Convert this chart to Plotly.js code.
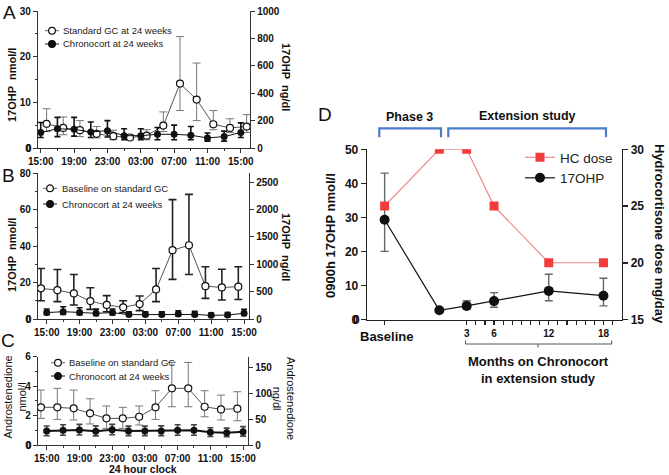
<!DOCTYPE html>
<html>
<head>
<meta charset="utf-8">
<script src="https://cdn.plot.ly/plotly-3.0.1.min.js"></script>
<style>body{margin:0;background:#fff}#fig{width:669px;height:475px}</style>
</head>
<body>
<div id="fig"></div>
<script>
// 24 h profiles (A-C), hours after 15:00
var clockTicks = [0, 4, 8, 12, 16, 20, 24];
var clockLabels = ['15:00', '19:00', '23:00', '03:00', '07:00', '11:00', '15:00'];
var hrsChrono = [0, 2, 4, 6, 8, 10, 12, 14, 16, 18, 20, 22, 24];
var hrsGcA = [0.7, 2.7, 4.7, 6.7, 8.7, 10.7, 12.7, 14.7, 16.7, 18.7, 20.7, 22.7, 24.7];
var hrsGcBC = [-0.7, 1.3, 3.3, 5.3, 7.3, 9.3, 11.3, 13.3, 15.3, 17.3, 19.3, 21.3, 23.3];

// A: 17OHP nmol/l
var gcA   = [5.3, 4.4, 3.9, 3.1, 2.6, 2.3, 2.7, 4.9, 14.1, 10.6, 5.2, 4.4, 4.7];
var gcAHi = [8.6, 6.8, 6.0, 4.7, 3.9, 2.9, 4.0, 7.9, 24.4, 18.6, 8.2, 6.4, 7.3];
var gcALo = [3.6, 2.9, 2.5, 2.2, 1.8, 1.8, 1.8, 3.6, 8.2, 6.0, 4.0, 3.4, 3.4];
var chA   = [3.4, 4.2, 4.1, 3.5, 3.8, 2.7, 2.7, 3.0, 3.0, 2.8, 2.2, 2.5, 3.4];
var chAHi = [5.6, 6.7, 6.7, 5.7, 6.0, 4.2, 4.2, 4.5, 5.0, 4.7, 3.3, 3.7, 5.5];
var chALo = [2.3, 2.5, 2.6, 2.3, 2.4, 1.8, 1.8, 1.8, 1.8, 1.8, 1.5, 1.5, 2.3];

// B: 17OHP nmol/l
var gcB   = [16.8, 15.8, 14.0, 9.8, 7.7, 6.4, 8.2, 16.2, 37.7, 40.4, 18.0, 17.3, 17.7];
var gcBHi = [27.7, 27.1, 24.4, 17.1, 12.8, 10.0, 12.6, 27.7, 65.4, 68.3, 28.6, 27.3, 28.6];
var gcBLo = [10.0, 9.5, 7.7, 5.3, 4.0, 3.6, 4.6, 9.5, 21.7, 24.4, 11.3, 10.4, 10.7];
var chB   = [3.5, 4.0, 3.6, 3.1, 3.5, 2.4, 2.4, 2.5, 2.7, 2.5, 2.0, 2.2, 3.1];
var chBHi = [5.5, 6.7, 6.2, 5.4, 5.5, 4.0, 3.9, 4.0, 4.5, 4.2, 3.3, 3.6, 5.3];
var chBLo = [2.3, 2.5, 2.3, 2.0, 2.2, 1.5, 1.5, 1.6, 1.7, 1.6, 1.3, 1.4, 2.0];

// C: androstenedione nmol/l
var gcC   = [2.56, 2.56, 2.49, 2.15, 1.81, 1.81, 1.92, 2.56, 3.85, 3.85, 2.60, 2.42, 2.47];
var gcCHi = [3.73, 3.85, 3.73, 3.14, 2.65, 2.56, 2.65, 3.69, 5.61, 5.61, 3.69, 3.39, 3.62];
var gcCLo = [1.81, 1.74, 1.70, 1.43, 1.13, 1.13, 1.36, 1.74, 2.60, 2.60, 1.92, 1.70, 1.65];
var chC   = [0.95, 1.00, 1.02, 0.93, 1.04, 0.95, 0.95, 0.95, 1.00, 1.00, 0.86, 0.84, 0.90];
var chCHi = [1.29, 1.38, 1.40, 1.30, 1.40, 1.28, 1.28, 1.30, 1.38, 1.38, 1.17, 1.15, 1.25];
var chCLo = [0.63, 0.66, 0.68, 0.62, 0.70, 0.64, 0.64, 0.64, 0.66, 0.66, 0.58, 0.56, 0.60];

// D: extension study, months (baseline drawn at -6)
var monthPos = [-6, 0, 3, 6, 12, 18];
var monthTicks = [-6, 3, 6, 12, 18];
var monthLabels = ['', '3', '6', '12', '18'];
var hcDose = [25, 30, 30, 25, 20, 20];
var ohpD   = [29.3, 2.7, 4.0, 5.4, 8.4, 7.0];
var ohpDHi = [43.0, 2.7, 5.5, 7.9, 13.3, 12.1];
var ohpDLo = [20.0, 2.7, 3.0, 3.6, 5.5, 4.0];

var W = 669, H = 475;
function px(v) { return v / W; }
function py(v) { return 1 - v / H; }
var FONT = 'Arial, "Liberation Sans", sans-serif';
var INK = '#111';

function err(v, hi, lo, color, thick, w) {
  return {
    type: 'data', symmetric: false,
    array: hi.map(function (h, i) { return h - v[i]; }),
    arrayminus: lo.map(function (l, i) { return v[i] - l; }),
    color: color, thickness: thick, width: w
  };
}

function gcTrace(x, y, hi, lo, xa, ya, errColor, errThick) {
  return {
    x: x, y: y, xaxis: xa, yaxis: ya, showlegend: false,
    type: 'scatter', mode: 'lines+markers',
    line: {color: '#555', width: 1},
    marker: {symbol: 'circle', size: 7, color: '#fff', line: {color: '#111', width: 1.2}},
    error_y: err(y, hi, lo, errColor, errThick, 4)
  };
}
function chTrace(x, y, hi, lo, xa, ya, lineW, errColor) {
  return {
    x: x, y: y, xaxis: xa, yaxis: ya, showlegend: false,
    type: 'scatter', mode: 'lines+markers',
    line: {color: '#111', width: lineW},
    marker: {symbol: 'circle', size: 7, color: '#111'},
    error_y: err(y, hi, lo, errColor, 1.6, 3)
  };
}
// empty trace so a secondary (ng/dl) axis gets drawn
function axisHolder(xa, ya) {
  return {x: [], y: [], xaxis: xa, yaxis: ya, type: 'scatter', mode: 'markers', showlegend: false, hoverinfo: 'skip'};
}

var data = [
  axisHolder('x', 'y2'), axisHolder('x2', 'y4'), axisHolder('x3', 'y6'),
  gcTrace(hrsGcA, gcA, gcAHi, gcALo, 'x', 'y', '#777', 1),
  chTrace(hrsChrono, chA, chAHi, chALo, 'x', 'y', 1, '#111'),
  gcTrace(hrsGcBC, gcB, gcBHi, gcBLo, 'x2', 'y3', '#222', 1.6),
  chTrace(hrsChrono, chB, chBHi, chBLo, 'x2', 'y3', 1, '#111'),
  gcTrace(hrsGcBC, gcC, gcCHi, gcCLo, 'x3', 'y5', '#777', 1),
  chTrace(hrsChrono, chC, chCHi, chCLo, 'x3', 'y5', 2, '#444'),
  {
    x: monthPos, y: hcDose, name: 'HC dose', xaxis: 'x4', yaxis: 'y8',
    type: 'scatter', mode: 'lines+markers',
    line: {color: '#f28a8a', width: 1.2},
    marker: {symbol: 'square', size: 9, color: '#f23c3c'}
  },
  {
    x: monthPos, y: ohpD, name: '17OHP', xaxis: 'x4', yaxis: 'y7',
    type: 'scatter', mode: 'lines+markers',
    line: {color: '#111', width: 1.2},
    marker: {symbol: 'circle', size: 10, color: '#111'},
    error_y: err(ohpD, ohpDHi, ohpDLo, '#666', 1.4, 4)
  }
];

function xClock(dom, rng, anchor) {
  return {
    domain: dom, range: rng, anchor: anchor,
    tickmode: 'array', tickvals: clockTicks, ticktext: clockLabels,
    ticks: 'outside', ticklen: 4, tickwidth: 1, tickcolor: '#333',
    minor: {tickmode: 'array', tickvals: [2, 6, 10, 14, 18, 22], ticks: 'outside', ticklen: 2},
    showline: true, linecolor: '#333', linewidth: 1.2,
    showgrid: false, zeroline: false,
    tickfont: {family: FONT, size: 10, color: INK, weight: 'bold'}
  };
}
function yLeft(dom, rng, tv, minorDtick, anchor) {
  return {
    domain: dom, range: rng, anchor: anchor, tickmode: 'array', tickvals: tv,
    ticks: 'outside', ticklen: 4, tickwidth: 1, tickcolor: '#333',
    minor: {tick0: 0, dtick: minorDtick, ticks: 'outside', ticklen: 2},
    showline: true, linecolor: '#333', linewidth: 1.2,
    showgrid: false, zeroline: false,
    tickfont: {family: FONT, size: 10, color: INK, weight: 'bold'}
  };
}
function yRight(over, anchor, rng, tv) {
  return {
    overlaying: over, anchor: anchor, side: 'right', range: rng,
    tickmode: 'array', tickvals: tv,
    ticks: 'outside', ticklen: 4, tickwidth: 1, tickcolor: '#333',
    showline: true, linecolor: '#333', linewidth: 1.2,
    showgrid: false, zeroline: false,
    tickfont: {family: FONT, size: 10, color: INK, weight: 'bold'}
  };
}
function note(text, x, y, size, angle, bold, xanchor) {
  return {
    text: text, x: px(x), y: py(y), xref: 'paper', yref: 'paper',
    xanchor: xanchor || 'center', yanchor: 'middle', showarrow: false, textangle: angle || 0,
    font: {family: FONT, size: size, color: INK, weight: bold ? 'bold' : 'normal'}
  };
}

// hand-placed keys for the small legends of A-C
var keyShapes = [], keyNotes = [];
function key(mx, y, tx, label, open, lineColor) {
  keyShapes.push({type: 'line', xref: 'paper', yref: 'paper', x0: px(mx - 7), x1: px(mx + 7), y0: py(y), y1: py(y),
    line: {color: lineColor, width: 1}});
  keyShapes.push({type: 'circle', xref: 'paper', yref: 'paper', x0: px(mx - 3.4), x1: px(mx + 3.4), y0: py(y + 3.4), y1: py(y - 3.4),
    fillcolor: open ? '#fff' : '#111', line: {color: '#111', width: 1.2}});
  keyNotes.push({text: label, x: px(tx), y: py(y), xref: 'paper', yref: 'paper', xanchor: 'left', yanchor: 'middle',
    showarrow: false, font: {family: FONT, size: 9.5, color: '#222'}});
}
key(52, 30.7, 61, 'Standard GC at 24 weeks', true, '#666');
key(52, 44, 61, 'Chronocort at 24 weeks', false, '#111');
key(50, 188.3, 59.5, 'Baseline on standard GC', true, '#666');
key(50, 204, 59.5, 'Chronocort at 24 weeks', false, '#111');
key(58, 362.7, 67, 'Baseline on standard GC', true, '#666');
key(58, 376, 67, 'Chronocort at 24 weeks', false, '#111');

// the corner "0" of each left axis (Plotly drops it where the axes meet)
function zeroLabel(x, y, size) {
  return {text: '0', x: px(x), y: py(y), xref: 'paper', yref: 'paper', xanchor: 'right', yanchor: 'middle',
    showarrow: false, font: {family: FONT, size: size, color: INK, weight: 'bold'}};
}

var blue = '#4a7cc9';
var layout = {
  width: W, height: H,
  margin: {l: 0, r: 0, t: 0, b: 0},
  paper_bgcolor: '#fff', plot_bgcolor: 'rgba(0,0,0,0)',
  font: {family: FONT, color: INK},
  xaxis: xClock([px(38), px(250)], [-0.33, 25.1], 'y'),
  yaxis: yLeft([py(148), py(11)], [0, 30], [0, 10, 20, 30], 5, 'x'),
  yaxis2: yRight('y', 'x', [0, 1000], [0, 200, 400, 600, 800, 1000]),
  xaxis2: xClock([px(38), px(249)], [-1.06, 24.6], 'y3'),
  yaxis3: yLeft([py(319), py(173)], [0, 80], [0, 20, 40, 60, 80], 10, 'x2'),
  yaxis4: yRight('y3', 'x2', [0, 2667], [0, 500, 1000, 1500, 2000, 2500]),
  xaxis3: xClock([px(38), px(248)], [-1.06, 24.6], 'y5'),
  yaxis5: yLeft([py(445), py(356.7)], [0, 6], [0, 2, 4, 6], 1, 'x3'),
  yaxis6: yRight('y5', 'x3', [0, 170], [0, 50, 100, 150]),
  xaxis4: {
    domain: [px(367.3), px(621.7)], range: [-7.9, 20], anchor: 'y7',
    tickmode: 'array', tickvals: monthTicks, ticktext: monthLabels,
    ticks: 'outside', ticklen: 4, tickwidth: 1.2, tickcolor: '#222',
    minor: {tickmode: 'array', tickvals: [4, 5, 7, 8, 9, 10, 11, 13, 14, 15, 16, 17, 19], ticks: 'outside', ticklen: 4, tickwidth: 1.2},
    showline: true, linecolor: '#222', linewidth: 1.6,
    showgrid: false, zeroline: false,
    tickfont: {family: FONT, size: 10, color: INK, weight: 'bold'}
  },
  yaxis7: {
    domain: [py(319.5), py(149.3)], range: [0, 50], anchor: 'x4',
    tickmode: 'array', tickvals: [0, 10, 20, 30, 40, 50],
    ticks: 'outside', ticklen: 5, tickwidth: 1.6, tickcolor: '#222',
    showline: true, linecolor: '#222', linewidth: 1.6,
    showgrid: false, zeroline: false,
    tickfont: {family: FONT, size: 12, color: INK, weight: 'bold'}
  },
  yaxis8: {
    overlaying: 'y7', anchor: 'x4', side: 'right', range: [15, 30], dtick: 5,
    ticks: 'outside', ticklen: 5, tickwidth: 1.6, tickcolor: '#222',
    showline: true, linecolor: '#222', linewidth: 1.6,
    showgrid: false, zeroline: false,
    tickfont: {family: FONT, size: 12, color: INK, weight: 'bold'}
  },
  showlegend: true,
  legend: {
    x: px(520), y: py(142), xanchor: 'left', yanchor: 'top',
    bgcolor: 'rgba(0,0,0,0)',
    font: {family: FONT, size: 13.5, color: '#222'}
  },
  shapes: [
    {type: 'path', xref: 'paper', yref: 'paper', line: {color: blue, width: 2.2},
     path: 'M' + px(379.3) + ',' + py(137.3) + ' L' + px(379.3) + ',' + py(128.3) + ' L' + px(441) + ',' + py(128.3) + ' L' + px(441) + ',' + py(137.3)},
    {type: 'path', xref: 'paper', yref: 'paper', line: {color: blue, width: 2.2},
     path: 'M' + px(448.3) + ',' + py(137.3) + ' L' + px(448.3) + ',' + py(128.3) + ' L' + px(606) + ',' + py(128.3) + ' L' + px(606) + ',' + py(137.3)},
    {type: 'path', xref: 'paper', yref: 'paper', line: {color: '#555', width: 1},
     path: 'M' + px(465.5) + ',' + py(340.5) + ' L' + px(465.5) + ',' + py(344) + ' L' + px(611.7) + ',' + py(344) + ' L' + px(611.7) + ',' + py(340.5)},
    {type: 'line', xref: 'paper', yref: 'paper', line: {color: '#555', width: 1},
     x0: px(538), x1: px(538), y0: py(344), y1: py(347.5)}
  ].concat(keyShapes),
  annotations: [
    note('A', 9, 12, 19),
    note('B', 8, 175, 19),
    note('C', 8, 340, 19),
    note('D', 325, 115, 19),
    note('17OHP  nmol/l', 12, 85, 11, -90, true),
    note('17OHP  ng/dl', 286, 77, 11, 90, true),
    note('17OHP  nmol/l', 12, 255, 11, -90, true),
    note('17OHP  ng/dl', 286, 247, 11, 90, true),
    note('Androstenedione<br>nmol/l', 14.5, 397, 11, -90, false),
    note('Androstenedione<br>ng/dl', 284, 398, 11, 90, false),
    note('24 hour clock', 143, 469, 10.5, 0, true),
    note('0900h 17OHP nmol/l', 330, 236, 13, -90, true),
    note('Hydrocortisone dose mg/day', 660, 234, 13, 90, true),
    note('Phase 3', 409.3, 116.7, 12.5, 0, true),
    note('Extension study', 527.3, 115.5, 12.5, 0, true),
    note('Baseline', 386, 336.5, 13, 0, true),
    note('Months on Chronocort<br>in extension study', 538, 370, 13, 0, true),
    zeroLabel(34, 148, 10), zeroLabel(34, 319, 10), zeroLabel(34, 445, 10), zeroLabel(362, 319.5, 12)
  ].concat(keyNotes)
};

Plotly.newPlot('fig', data, layout, {staticPlot: true, displayModeBar: false});
</script>
</body>
</html>
